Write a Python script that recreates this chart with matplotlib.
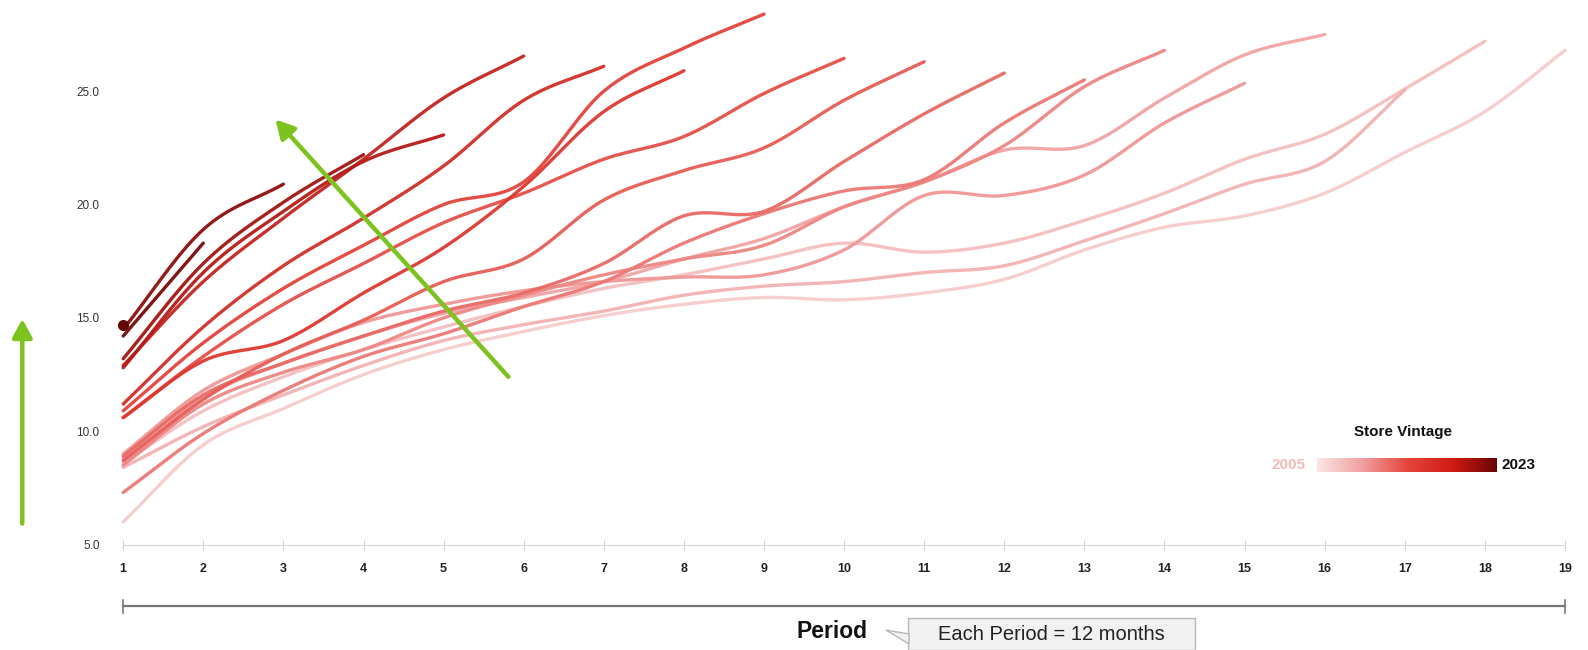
import numpy as np
import matplotlib
matplotlib.use("Agg")
import matplotlib.pyplot as plt
from matplotlib.colors import LinearSegmentedColormap
from matplotlib.patches import FancyArrowPatch, Polygon, Rectangle

plt.rcParams["font.family"] = ["Liberation Sans", "DejaVu Sans"]

# sales per store by period since opening, one series per store vintage
vintages = list(range(2005, 2024))
v2005 = [6.0, 9.4, 11.0, 12.5, 13.6, 14.4, 15.1, 15.6, 15.9, 15.8, 16.1, 16.7, 18.0, 19.0, 19.5, 20.5, 22.3, 24.1, 26.8]
v2006 = [8.6, 10.9, 12.4, 13.6, 14.6, 15.5, 16.3, 16.9, 17.6, 18.3, 17.9, 18.3, 19.3, 20.5, 22.0, 23.1, 25.1, 27.2]
v2007 = [8.4, 10.2, 11.6, 12.9, 14.0, 14.7, 15.3, 16.0, 16.4, 16.6, 17.0, 17.3, 18.4, 19.6, 20.9, 21.9, 25.05]
v2008 = [8.8, 11.5, 13.0, 14.2, 15.2, 15.9, 16.6, 17.6, 18.5, 19.9, 21.0, 22.4, 22.6, 24.7, 26.6, 27.5]
v2009 = [9.0, 11.8, 13.4, 14.8, 15.6, 16.2, 16.6, 16.8, 16.9, 18.0, 20.4, 20.4, 21.3, 23.6, 25.35]
v2010 = [8.5, 11.2, 12.6, 13.6, 15.0, 16.0, 16.9, 17.6, 18.2, 19.9, 21.0, 22.6, 25.2, 26.8]
v2011 = [7.3, 9.9, 11.8, 13.3, 14.3, 15.5, 16.6, 18.3, 19.6, 20.6, 21.1, 23.6, 25.5]
v2012 = [8.9, 11.6, 13.0, 14.2, 15.3, 16.1, 17.4, 19.5, 19.7, 21.9, 24.0, 25.8]
v2013 = [8.7, 11.4, 13.4, 14.9, 16.6, 17.6, 20.2, 21.5, 22.5, 24.6, 26.3]
v2014 = [10.6, 13.3, 15.6, 17.4, 19.2, 20.5, 22.0, 23.0, 24.9, 26.45]
v2015 = [10.9, 13.9, 16.3, 18.2, 20.0, 21.0, 25.0, 26.9, 28.4]
v2016 = [10.6, 13.1, 14.0, 16.1, 18.1, 20.8, 24.1, 25.9]
v2017 = [11.2, 14.6, 17.3, 19.4, 21.7, 24.6, 26.1]
v2018 = [12.9, 16.6, 19.4, 22.0, 24.7, 26.55]
v2019 = [12.8, 17.0, 19.7, 21.9, 23.07]
v2020 = [13.2, 17.4, 20.1, 22.2]
v2021 = [14.5, 18.9, 20.9]
v2022 = [14.2, 18.3]
v2023 = [14.7]
series = [v2005, v2006, v2007, v2008, v2009, v2010, v2011, v2012, v2013, v2014,
          v2015, v2016, v2017, v2018, v2019, v2020, v2021, v2022, v2023]

yticks = [5.0, 10.0, 15.0, 20.0, 25.0]
periods = list(range(1, 20))

cmap = LinearSegmentedColormap.from_list(
    "vintage", ["#f6cccc", "#f09c9c", "#e86660", "#e03a32", "#b01814", "#620505"],
)


def smooth(x, y, k=24):
    # cubic hermite through the points (catmull-rom style tangents)
    x = np.asarray(x, float)
    y = np.asarray(y, float)
    if len(x) < 2:
        return x, y
    m = np.gradient(y, x)
    xs, ys = [], []
    for i in range(len(x) - 1):
        t = np.linspace(0, 1, k, endpoint=False)
        h = x[i + 1] - x[i]
        h00 = 2 * t**3 - 3 * t**2 + 1
        h10 = t**3 - 2 * t**2 + t
        h01 = -2 * t**3 + 3 * t**2
        h11 = t**3 - t**2
        xs.append(x[i] + t * h)
        ys.append(h00 * y[i] + h10 * h * m[i] + h01 * y[i + 1] + h11 * h * m[i + 1])
    xs.append([x[-1]])
    ys.append([y[-1]])
    return np.concatenate(xs), np.concatenate(ys)


W, H = 1588, 650
fig = plt.figure(figsize=(W / 100, H / 100), dpi=100)
ax = fig.add_axes([123.2 / W, 105.4 / H, (1565 - 123.2) / W, 544.1 / H])

for yr, vals in zip(vintages, series):
    c = cmap((yr - 2005) / 18)
    p = np.arange(1, len(vals) + 1)
    if len(vals) == 1:
        ax.plot(p, vals, "o", ms=7, color=c, zorder=3, clip_on=False)
        continue
    xs, ys = smooth(p, vals)
    ax.plot(xs, ys, color=c, lw=2.4, solid_capstyle="round", alpha=0.95, clip_on=False)

ax.set_xlim(1, 19)
ax.set_ylim(5, 29)
ax.set_xticks(periods)
ax.set_xticklabels([str(p) for p in periods], fontweight="bold", fontsize=9, color="#222")
ax.set_yticks(yticks)
ax.set_yticklabels([f"{v:.1f}" for v in yticks], fontsize=8.5, color="#333")
ax.tick_params(axis="y", length=0, pad=17)
ax.tick_params(axis="x", direction="inout", length=7, color="#d0d0d0", pad=10)
for s in ["top", "right", "left"]:
    ax.spines[s].set_visible(False)
ax.spines["bottom"].set_color("#d6d6d6")


def fy(yfull):
    return H - yfull


# x-axis bracket under the ticks
ax.plot([1, 19], [-0.113, -0.113], transform=ax.get_xaxis_transform(), color="#777", lw=1.6, clip_on=False)
for xe in (1, 19):
    ax.plot([xe, xe], [-0.101, -0.125], transform=ax.get_xaxis_transform(), color="#777", lw=1.2, clip_on=False)

fig.text(832 / W, fy(631) / H, "Period", ha="center", va="center", fontsize=16.5, fontweight="bold", color="#111")
box = Rectangle((908, fy(650)), 287, 32, transform=None, facecolor="#f1f1f1", edgecolor="#b8b8b8", lw=1)
fig.add_artist(box)
tail = Polygon([(909, fy(634)), (886, fy(630)), (909, fy(644))], closed=True, transform=None,
               facecolor="#f1f1f1", edgecolor="#b8b8b8", lw=1)
fig.add_artist(tail)
fig.text(1051 / W, fy(634) / H, "Each Period = 12 months", ha="center", va="center", fontsize=14.5, color="#222")

# green trend arrows
green = "#7cc31f"
for (x0, y0), (x1, y1) in [((22.3, 523.6), (22.3, 319)), ((508.4, 376.8), (275.5, 119.5))]:
    fig.add_artist(FancyArrowPatch((x0, fy(y0)), (x1, fy(y1)), transform=None,
                                   arrowstyle="-|>,head_length=11,head_width=6", lw=3.2, color=green,
                                   shrinkA=0, shrinkB=0))

# colour legend
fig.text(1403 / W, fy(432) / H, "Store Vintage", ha="center", va="center", fontsize=11, fontweight="bold", color="#111")
cax = fig.add_axes([1317 / W, fy(472) / H, 179 / W, 14 / H])
cax.imshow(np.linspace(0, 1, 256)[None, :], aspect="auto", cmap=LinearSegmentedColormap.from_list(
    "bar", ["#fbe6e6", "#f0a0a0", "#e4463e", "#d01c14", "#6a0404"]))
cax.set_axis_off()
fig.text(1306 / W, fy(465) / H, "2005", ha="right", va="center", fontsize=11, fontweight="bold", color="#f2baba")
fig.text(1501 / W, fy(465) / H, "2023", ha="left", va="center", fontsize=11, fontweight="bold", color="#111")

fig.savefig("out.png", dpi=100, facecolor="white")
